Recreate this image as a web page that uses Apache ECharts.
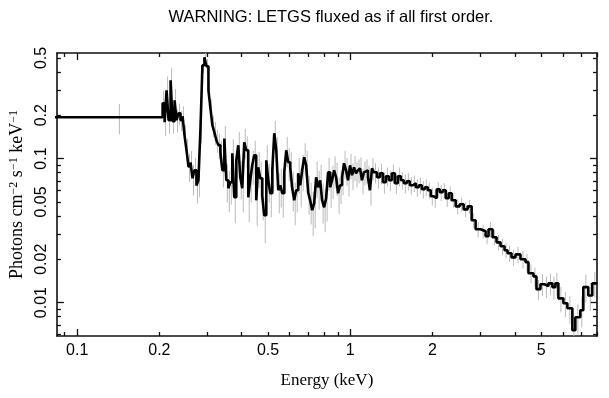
<!DOCTYPE html>
<html>
<head>
<meta charset="utf-8">
<script src="https://cdn.jsdelivr.net/npm/echarts@6/dist/echarts.min.js"></script>
<style>
  html, body { margin: 0; padding: 0; background: #fff; }
  #chart { width: 609px; height: 398px; }
</style>
</head>
<body>
<div id="chart"></div>
<script>
// bin edges (keV), one more than the bins
const edges = [
  0.08,
  0.2055, 0.2090, 0.2125, 0.2161, 0.2198, 0.2235, 0.2273, 0.2311, 0.2350, 0.2390,
  0.2431, 0.2472, 0.2514, 0.2556, 0.2600, 0.2644, 0.2688, 0.2734, 0.2780, 0.2827,
  0.2875, 0.2924, 0.2973, 0.3024, 0.3075, 0.3127, 0.3180, 0.3234, 0.3288, 0.3344,
  0.3400, 0.3458, 0.3516,
  0.3576, 0.3636, 0.3698, 0.3760, 0.3824, 0.3889, 0.3955, 0.4022, 0.4090, 0.4159,
  0.4230, 0.4301, 0.4374, 0.4448, 0.4524, 0.4600, 0.4678, 0.4758, 0.4838, 0.4925,
  0.5008, 0.5093, 0.5180, 0.5268, 0.5357, 0.5448, 0.5540, 0.5634, 0.5730, 0.5827,
  0.5925, 0.6026, 0.6128, 0.6232, 0.6337, 0.6445, 0.6554, 0.6665, 0.6778, 0.6893,
  0.7010, 0.7129, 0.7250, 0.7373, 0.7498, 0.7625, 0.7754, 0.7885, 0.8019, 0.8155,
  0.8293, 0.8434, 0.8577, 0.8722, 0.8870, 0.9020, 0.9173, 0.9329, 0.9487, 0.9648,
  0.9809, 0.9975, 1.0144, 1.0316, 1.0491, 1.0669, 1.0850, 1.1034, 1.1221, 1.1411,
  1.1605, 1.1802, 1.2002, 1.2205,
  1.2515, 1.2834, 1.3162, 1.3498, 1.3842, 1.4195, 1.4557, 1.4929, 1.5310,
  1.5701, 1.6102, 1.6515, 1.6937, 1.7370, 1.7813, 1.8269, 1.8735, 1.9215, 1.9705,
  2.0208, 2.0725, 2.1254, 2.1797, 2.2353, 2.2925, 2.3510,
  2.4315, 2.5140, 2.5999, 2.6888, 2.7806, 2.8757,
  2.9990, 3.1277, 3.2074, 3.3171, 3.4305, 3.5481,
  3.6694, 3.7630, 3.8917, 4.0247,
  4.1975, 4.3778, 4.4896, 4.6824, 4.8020, 4.9662,
  5.1360, 5.3115, 5.4931, 5.6333, 5.7771,
  6.0251, 6.2310, 6.4991, 6.6649, 6.9508, 7.1283, 7.4343, 7.6885, 8.0183
]

// photons cm^-2 s^-1 keV^-1, one per bin
const flux = [
  0.1935,
  0.242, 0.179, 0.298, 0.185, 0.350, 0.182, 0.254, 0.185, 0.206, 0.185,
  0.197, 0.145, 0.114, 0.088, 0.094, 0.073, 0.083, 0.065, 0.071, 0.160,
  0.445, 0.505, 0.438, 0.298, 0.224, 0.170, 0.152, 0.134, 0.124, 0.111,
  0.083, 0.138,
  0.0707, 0.0622, 0.0685, 0.1088, 0.0539, 0.0973, 0.1237, 0.0742, 0.0622, 0.1298,
  0.1142, 0.0539, 0.0707, 0.0898, 0.1054, 0.0513, 0.0870, 0.0730, 0.0556, 0.0404,
  0.0973, 0.0707, 0.0574, 0.0829, 0.1499, 0.1142, 0.0603, 0.0653, 0.0574, 0.0803,
  0.1142, 0.0942, 0.0870, 0.0622, 0.0513, 0.0603, 0.0790, 0.0653, 0.0829, 0.1021,
  0.0898, 0.0583, 0.0513, 0.0438, 0.0489, 0.0742, 0.0632, 0.0707, 0.0513, 0.0459,
  0.0530, 0.0803, 0.0632, 0.0707, 0.0829, 0.0742, 0.0574, 0.0653, 0.0742, 0.0928,
  0.0829, 0.0707, 0.0898, 0.0766, 0.0870, 0.0790, 0.0829, 0.0856, 0.0707, 0.0803,
  0.0829, 0.0742, 0.0603, 0.0856,
  0.0803, 0.0742, 0.0790, 0.0685, 0.0754, 0.0707, 0.0790, 0.0674, 0.0754,
  0.0707, 0.0674, 0.0696, 0.0653, 0.0674, 0.0632, 0.0653, 0.0612, 0.0632, 0.0603,
  0.0547, 0.0530, 0.0612, 0.0583, 0.0603, 0.0530, 0.0574,
  0.0513, 0.0466, 0.0482, 0.0444, 0.0466, 0.0373,
  0.0323, 0.0313, 0.0289, 0.0323, 0.0284, 0.0262,
  0.0246, 0.0231, 0.0220, 0.0206,
  0.0216, 0.0200, 0.0191, 0.0160, 0.0152, 0.0124,
  0.0134, 0.0130, 0.0136, 0.0128, 0.0136,
  0.0107, 0.00989, 0.00913, 0.00642, 0.00790, 0.00884, 0.0128, 0.0112, 0.0136
]

// relative 1-sigma error of each bin
const fluxErr = [
  0.24,
  0.22, 0.2, 0.25, 0.2, 0.22, 0.18, 0.2, 0.18, 0.17, 0.16,
  0.17, 0.18, 0.2, 0.22, 0.2, 0.24, 0.22, 0.25, 0.24, 0.2,
  0.12, 0.1, 0.12, 0.14, 0.15, 0.17, 0.18, 0.18, 0.2, 0.2,
  0.24, 0.22,
  0.3, 0.32, 0.3, 0.25, 0.34, 0.26, 0.24, 0.3, 0.32, 0.24,
  0.25, 0.33, 0.3, 0.27, 0.26, 0.34, 0.28, 0.3, 0.33, 0.36,
  0.27, 0.3, 0.32, 0.28, 0.22, 0.24, 0.31, 0.3, 0.32, 0.28,
  0.24, 0.26, 0.27, 0.31, 0.33, 0.3, 0.28, 0.3, 0.28, 0.25,
  0.26, 0.3, 0.32, 0.34, 0.33, 0.28, 0.3, 0.28, 0.31, 0.33,
  0.31, 0.26, 0.28, 0.26, 0.25, 0.26, 0.28, 0.26, 0.25, 0.22,
  0.22, 0.23, 0.2, 0.21, 0.2, 0.2, 0.19, 0.19, 0.2, 0.19,
  0.19, 0.2, 0.22, 0.18,
  0.16, 0.17, 0.16, 0.17, 0.15, 0.16, 0.15, 0.16, 0.15,
  0.14, 0.15, 0.14, 0.14, 0.13, 0.14, 0.13, 0.14, 0.13, 0.13,
  0.14, 0.14, 0.12, 0.13, 0.12, 0.13, 0.12,
  0.12, 0.12, 0.11, 0.12, 0.11, 0.12,
  0.12, 0.11, 0.12, 0.12, 0.12, 0.12,
  0.13, 0.12, 0.13, 0.13,
  0.13, 0.14, 0.14, 0.15, 0.15, 0.16,
  0.17, 0.17, 0.17, 0.18, 0.18,
  0.2, 0.2, 0.22, 0.26, 0.24, 0.24, 0.22, 0.22, 0.2
]

const xRange = [0.0843, 8.0]
const yRange = [0.00586, 0.541]
const xLabels = [0.1, 0.2, 0.5, 1, 2, 5]
const xMajorTicks = [0.1, 1]
const xMinorTicks = [0.09, 0.2, 0.3, 0.4, 0.5, 0.6, 0.7, 0.8, 0.9, 2, 3, 4, 5, 6, 7, 8]
const yLabels = [0.01, 0.02, 0.05, 0.1, 0.2, 0.5]
const yMajorTicks = [0.01, 0.1]
const yMinorTicks = [0.006, 0.007, 0.008, 0.009, 0.02, 0.03, 0.04, 0.05, 0.06, 0.07, 0.08, 0.09, 0.2, 0.3, 0.4, 0.5]

const lg = Math.log10
const ink = '#111'
const sans = 'Liberation Sans'
const serif = 'Liberation Serif'

const fmt = (v) => String(parseFloat(Math.pow(10, v).toPrecision(3)))

// one axis per side and tick length (log10 values on a value axis)
const makeAxis = (position, range, ticks, len, opts = {}) => ({
  type: 'value',
  position,
  min: lg(range[0]),
  max: lg(range[1]),
  axisLine: { show: !!opts.line, onZero: false, lineStyle: { color: ink, width: 1.6 } },
  axisTick: { show: true, inside: true, length: len, customValues: ticks.map(lg), lineStyle: { color: ink, width: 1.3 } },
  axisLabel: opts.labels
    ? { show: true, customValues: opts.labels.map(lg), formatter: fmt, color: '#000', fontFamily: sans, fontSize: 16, margin: 7, rotate: opts.rotate || 0 }
    : { show: false },
  splitLine: { show: false },
  ...(opts.name || {})
})

const stepData = flux.map((f, i) => [lg(edges[i]), lg(f)])
stepData.push([lg(edges[flux.length]), lg(flux[flux.length - 1])])
const errData = flux.map((f, i) => [
  lg((edges[i] + edges[i + 1]) / 2),
  lg(f * (1 - fluxErr[i])),
  lg(f * (1 + fluxErr[i]))
])

const myChart = echarts.init(document.getElementById('chart'))
const options = {
  animation: false,
  backgroundColor: '#fff',
  title: {
    text: 'WARNING: LETGS fluxed as if all first order.',
    left: 326,
    top: 4,
    textAlign: 'center',
    textStyle: { fontFamily: sans, fontSize: 16.5, fontWeight: 'normal', color: '#000' }
  },
  grid: { left: 55, right: 12, top: 53, bottom: 62 },
  xAxis: [
    makeAxis('bottom', xRange, xMinorTicks, 4, {
      line: true,
      labels: xLabels,
      name: {
        name: 'Energy (keV)',
        nameLocation: 'middle',
        nameGap: 36,
        nameTextStyle: { fontFamily: serif, fontSize: 17, color: '#000' }
      }
    }),
    makeAxis('bottom', xRange, xMajorTicks, 7),
    makeAxis('top', xRange, xMinorTicks, 4, { line: true }),
    makeAxis('top', xRange, xMajorTicks, 7)
  ],
  yAxis: [
    makeAxis('left', yRange, yMinorTicks, 4, {
      line: true,
      labels: yLabels,
      rotate: 90,
      name: {
        name: '{a|Photons cm}{b|−2}{a| s}{b|−1}{a| keV}{b|−1}',
        nameLocation: 'middle',
        nameGap: 29,
        nameTextStyle: {
          color: '#000',
          rich: {
            a: { fontFamily: serif, fontSize: 18, color: '#000' },
            b: { fontFamily: serif, fontSize: 12, color: '#000', verticalAlign: 'top' }
          }
        }
      }
    }),
    makeAxis('left', yRange, yMajorTicks, 7),
    makeAxis('right', yRange, yMinorTicks, 4, { line: true }),
    makeAxis('right', yRange, yMajorTicks, 7)
  ],
  series: [
    {
      // gray error bars
      type: 'custom',
      xAxisIndex: 0,
      yAxisIndex: 0,
      z: 1,
      encode: { x: 0, y: [1, 2] },
      data: errData,
      renderItem: (params, api) => {
        const cs = params.coordSys
        const lo = api.coord([api.value(0), api.value(1)])
        const hi = api.coord([api.value(0), api.value(2)])
        return {
          type: 'line',
          shape: {
            x1: lo[0], y1: Math.min(cs.y + cs.height, lo[1]),
            x2: hi[0], y2: Math.max(cs.y, hi[1])
          },
          style: { stroke: '#bababa', lineWidth: 1 }
        }
      }
    },
    {
      type: 'line',
      xAxisIndex: 0,
      yAxisIndex: 0,
      z: 3,
      step: 'end',
      showSymbol: false,
      symbol: 'none',
      data: stepData,
      lineStyle: { color: '#000', width: 2.6 }
    }
  ]
}
myChart.setOption(options)
</script>
</body>
</html>
